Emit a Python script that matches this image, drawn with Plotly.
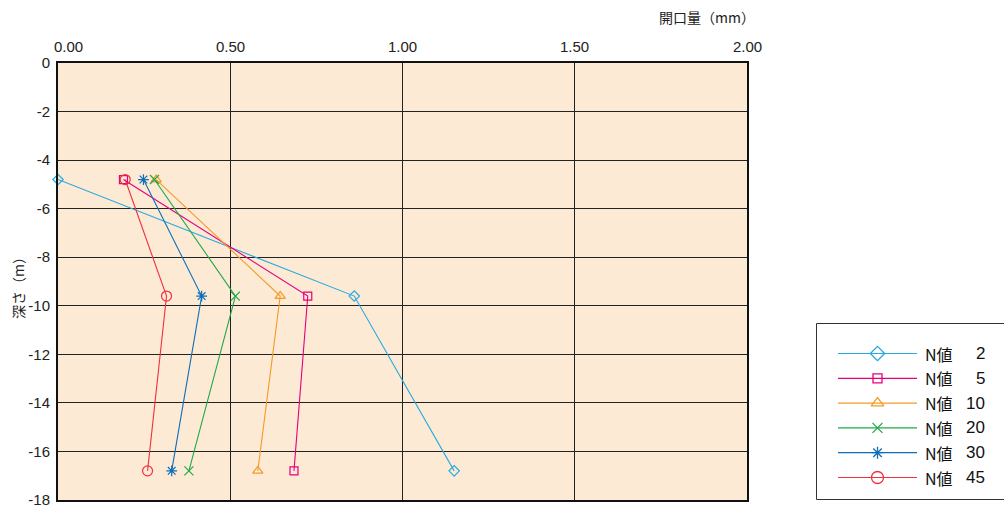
import plotly.graph_objects as go

# Depth of each measurement (m) and crack opening (mm) per N-value
depth = [-4.8, -9.6, -16.8]
n_labels = ["2", "5", "10", "20", "30", "45"]
opening = {
    "2": [0.0, 0.86, 1.15],
    "5": [0.19, 0.725, 0.685],
    "10": [0.285, 0.645, 0.58],
    "20": [0.28, 0.515, 0.38],
    "30": [0.248, 0.417, 0.33],
    "45": [0.195, 0.315, 0.26],
}
x_ticks = [0.0, 0.5, 1.0, 1.5, 2.0]
x_tick_text = ["0.00", "0.50", "1.00", "1.50", "2.00"]
y_ticks = [0, -2, -4, -6, -8, -10, -12, -14, -16, -18]
y_tick_text = ["0", "-2", "-4", "-6", "-8", "-10", "-12", "-14", "-16", "-18"]

colors = {
    "2": "#27A9E1",
    "5": "#E5007E",
    "10": "#F39A2B",
    "20": "#1FA84A",
    "30": "#0E6EB8",
    "45": "#EE3140",
}
# symbol, size in chart, size in legend
symbols = {
    "2": ("diamond-open", 8, 11),
    "5": ("square-open", 8, 9),
    "10": ("triangle-up-open", 9, 11),
    "20": ("x-thin-open", 9, 10),
    "30": ("asterisk-open", 9, 10),
    "45": ("circle-open", 10, 12),
}

FONT = "Liberation Sans, Arial, Noto Sans CJK JP, sans-serif"
CJK = "Noto Sans CJK JP, sans-serif"
W, H = 1004, 508
ML, MT, MB = 58, 63, 8
PLOT_RIGHT = 747
plot_w = W - ML
plot_h = H - MT - MB
x_dom_end = (PLOT_RIGHT - ML) / plot_w


def px_to_paper_x(px):
    return (px - ML) / plot_w


def px_to_paper_y(py):
    return (H - MB - py) / plot_h


fig = go.Figure()

# Peach plotting area
fig.add_shape(type="rect", xref="x", yref="y", x0=0, x1=2, y0=-18, y1=0,
              fillcolor="#FDEAD4", line=dict(width=0), layer="below")

for key in n_labels:
    sym, size, _ = symbols[key]
    fig.add_trace(go.Scatter(
        x=opening[key], y=depth, mode="lines+markers",
        name=f"N値 {key}",
        line=dict(color=colors[key], width=1.1),
        marker=dict(symbol=sym, size=size, color=colors[key],
                    line=dict(color=colors[key], width=1.2)),
        cliponaxis=False, showlegend=False,
        xaxis="x", yaxis="y",
    ))

# Legend drawn on a small axis pair measured in page pixels
LEG_LEFT, LEG_TOP, LEG_BOTTOM = 816, 323, 500
row0, row_step = 353.5, 24.8
for i, key in enumerate(n_labels):
    sym, _, lsize = symbols[key]
    yy = row0 + row_step * i
    fig.add_trace(go.Scatter(
        x=[838, 917], y=[yy, yy], mode="lines",
        line=dict(color=colors[key], width=1.2),
        showlegend=False, hoverinfo="skip", xaxis="x2", yaxis="y2",
    ))
    fig.add_trace(go.Scatter(
        x=[877.5], y=[yy], mode="markers",
        marker=dict(symbol=sym, size=lsize, color=colors[key],
                    line=dict(color=colors[key], width=1.3)),
        showlegend=False, hoverinfo="skip", xaxis="x2", yaxis="y2",
        cliponaxis=False,
    ))
    fig.add_annotation(x=923, y=yy, xref="x2", yref="y2", text="N値",
                       showarrow=False, xanchor="left", yanchor="middle",
                       font=dict(family=CJK, size=16, color="#111"))
    fig.add_annotation(x=987, y=yy, xref="x2", yref="y2", text=key,
                       showarrow=False, xanchor="right", yanchor="middle",
                       font=dict(family=FONT, size=17, color="#111"))

# Legend frame (right edge runs off the page)
fig.add_shape(type="rect", xref="paper", yref="paper",
              x0=px_to_paper_x(LEG_LEFT + 0.5), x1=px_to_paper_x(W + 10),
              y0=px_to_paper_y(LEG_BOTTOM - 0.5), y1=px_to_paper_y(LEG_TOP + 0.5),
              line=dict(color="#333", width=1), layer="above")

# Top tick labels
for v, t in zip(x_ticks, x_tick_text):
    fig.add_annotation(x=v, y=1, xref="x", yref="paper", text=t,
                       showarrow=False, xanchor="center", yanchor="bottom",
                       yshift=6, xshift=10 if v == 0 else 0,
                       font=dict(family=FONT, size=15, color="#222"))

# Axis titles
fig.add_annotation(x=px_to_paper_x(757), y=px_to_paper_y(17),
                   xref="paper", yref="paper", text="開口量（mm）",
                   showarrow=False, xanchor="right", yanchor="middle",
                   font=dict(family=CJK, size=14, color="#222"))
fig.add_annotation(x=px_to_paper_x(18), y=px_to_paper_y(285),
                   xref="paper", yref="paper", text="深さ（m）",
                   showarrow=False, xanchor="center", yanchor="middle",
                   textangle=-90,
                   font=dict(family=CJK, size=14, color="#222"))

fig.update_layout(
    width=W, height=H,
    margin=dict(l=ML, r=0, t=MT, b=MB),
    paper_bgcolor="white",
    plot_bgcolor="rgba(0,0,0,0)",
    showlegend=False,
    xaxis=dict(domain=[0, x_dom_end], range=[0, 2], side="top",
               tickvals=x_ticks, showticklabels=False, ticks="",
               showgrid=True, gridcolor="#222", gridwidth=1,
               showline=True, linecolor="#111", linewidth=2, mirror=True,
               zeroline=False, fixedrange=True),
    yaxis=dict(domain=[0, 1], range=[-18, 0], tickvals=y_ticks,
               ticktext=y_tick_text, ticklabeloverflow="allow",
               ticks="outside", ticklen=3, tickcolor="rgba(0,0,0,0)",
               tickfont=dict(family=FONT, size=15, color="#222"),
               showgrid=True, gridcolor="#222", gridwidth=1,
               showline=True, linecolor="#111", linewidth=2, mirror=True,
               zeroline=False, fixedrange=True),
    xaxis2=dict(domain=[px_to_paper_x(LEG_LEFT), 1], range=[LEG_LEFT, W],
                anchor="y2", visible=False, fixedrange=True),
    yaxis2=dict(domain=[0, px_to_paper_y(LEG_TOP)], range=[LEG_BOTTOM, LEG_TOP],
                anchor="x2", visible=False, fixedrange=True),
)

fig.write_html("out.html")
